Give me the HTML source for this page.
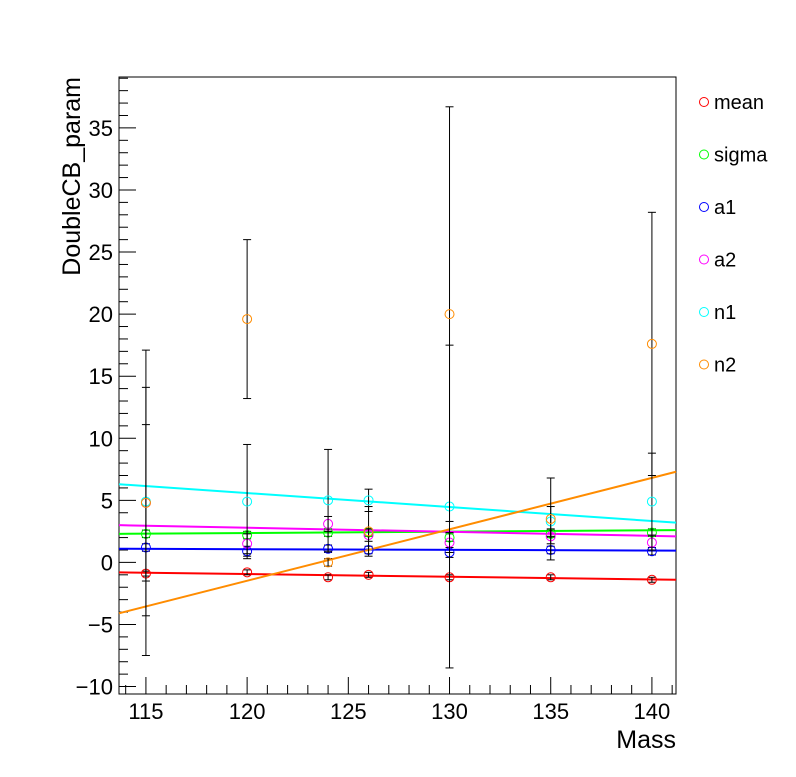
<!DOCTYPE html>
<html><head><meta charset="utf-8"><style>
body{margin:0;background:#fff}
svg text{font-family:"Liberation Sans",sans-serif}
</style></head><body>
<svg id="c" width="796" height="772" xmlns="http://www.w3.org/2000/svg"></svg>
<script>
const masses=[115,120,124,126,130,135,140];
const seriesNames=["mean","sigma","a1","a2","n1","n2"];
const seriesColors=["#ff0000","#00ff00","#0000ff","#ff00ff","#00ffff","#ff8c00"];
const meanVals=[-0.9,-0.8,-1.2,-1.0,-1.2,-1.2,-1.4];
const sigmaVals=[2.3,2.2,2.4,2.4,2.0,2.3,2.4];
const a1Vals=[1.2,0.9,1.1,1.0,0.8,1.0,0.9];
const a2Vals=[4.8,1.5,3.1,2.2,1.6,2.1,1.6];
const n1Vals=[4.9,4.9,5.0,5.0,4.5,3.3,4.9];
const n2Vals=[4.8,19.6,0.0,2.5,20.0,3.5,17.6];
const meanErr=[0.2,0.2,0.2,0.2,0.2,0.2,0.2];
const sigmaErr=[0.3,0.3,0.3,0.3,0.3,0.3,0.3];
const a1Err=[0.3,0.4,0.3,0.3,0.4,0.3,0.3];
const a2Err=[6.3,0.8,0.6,0.5,0.8,0.6,0.6];
const n1Err=[9.2,4.6,4.1,0.9,13.0,1.2,3.9];
const n2Err=[12.3,6.4,0.3,2.0,16.7,3.3,10.6];
const fitStart=[-0.8,2.3,1.1,3.0,6.3,-4.1];
const fitEnd=[-1.4,2.6,0.95,2.1,3.2,7.3];
const xTicks=[115,120,125,130,135,140];
const yTicks=[-10,-5,0,5,10,15,20,25,30,35];
const allVals=[meanVals,sigmaVals,a1Vals,a2Vals,n1Vals,n2Vals];
const allErr=[meanErr,sigmaErr,a1Err,a2Err,n1Err,n2Err];

const L=119,R=676,T=77,B=694,xmin=113.67,xmax=141.19,ymin=-10.6,ymax=39.1;
const X=v=>L+(v-xmin)/(xmax-xmin)*(R-L);
const Y=v=>B-(v-ymin)/(ymax-ymin)*(B-T);
const svg=document.getElementById('c');
function mk(t,a,p){const e=document.createElementNS("http://www.w3.org/2000/svg",t);for(const k in a)e.setAttribute(k,a[k]);(p||svg).appendChild(e);return e;}

const frame=mk('rect',{x:L,y:T,width:R-L,height:B-T,fill:'none',stroke:'#000','stroke-width':1});



const ax=mk('g',{stroke:'#000','stroke-width':1});


for(let v=114;v<=141;v++){const x=X(v);const len=v%5===0?17:9;mk('line',{x1:x,x2:x,y1:B,y2:B-len},ax);}
for(let v=-10;v<=39;v++){const y=Y(v);const len=v%5===0?17:9;mk('line',{x1:L,x2:L+len,y1:y,y2:y},ax);}
xTicks.forEach(v=>{const t=mk('text',{x:X(v),y:B+25,'font-size':22,'text-anchor':'middle'});t.textContent=v;

});
yTicks.forEach(v=>{const t=mk('text',{x:L-6,y:Y(v)+8,'font-size':22,'text-anchor':'end'});t.textContent=v<0?'\u2212'+(-v):v;

});
const xt=mk('text',{x:676,y:748,'font-size':25,'text-anchor':'end'});xt.textContent='Mass';


const yt=mk('text',{x:0,y:0,'font-size':25,'text-anchor':'end',transform:'translate(80,77) rotate(-90)'});yt.textContent='DoubleCB_param';



seriesNames.forEach((n,i)=>{const l=mk('line',{x1:L,x2:R,y1:Y(fitStart[i]),y2:Y(fitEnd[i]),stroke:seriesColors[i],'stroke-width':2});

});
seriesNames.forEach((n,i)=>{masses.forEach((m,j)=>{const v=allVals[i][j],e=allErr[i][j],x=X(m);
const g=mk('g',{});


mk('line',{x1:x,x2:x,y1:Y(v+e),y2:Y(v-e),stroke:'#000','stroke-width':1},g);
mk('line',{x1:x-4,x2:x+4,y1:Y(v+e),y2:Y(v+e),stroke:'#000','stroke-width':1},g);
mk('line',{x1:x-4,x2:x+4,y1:Y(v-e),y2:Y(v-e),stroke:'#000','stroke-width':1},g);
mk('circle',{cx:x,cy:Y(v),r:4.5,fill:'none',stroke:seriesColors[i],'stroke-width':1},g);});});
seriesNames.forEach((n,i)=>{const y=102+i*52.5;const g=mk('g',{});


mk('circle',{cx:704,cy:y,r:4.5,fill:'none',stroke:seriesColors[i],'stroke-width':1},g);
const t=mk('text',{x:714,y:y+7,'font-size':20},g);t.textContent=n;});
</script>
</body></html>
